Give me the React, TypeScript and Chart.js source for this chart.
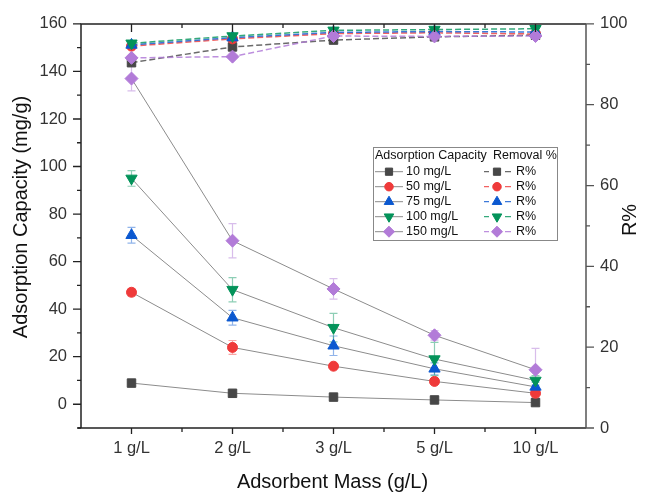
import React, { useEffect, useRef } from 'react';
import { Chart, registerables } from 'chart.js';

Chart.register(...registerables);

const FONT = '"Liberation Sans", Arial, Helvetica, sans-serif';
const W = 656;
const H = 494;

// categories and series names
const massLabels = ['1 g/L', '2 g/L', '3 g/L', '5 g/L', '10 g/L'];
const concLabels = ['10 mg/L', '50 mg/L', '75 mg/L', '100 mg/L', '150 mg/L'];

// adsorption capacity (mg/g)
const q10 = [8.9, 4.6, 3.0, 1.8, 0.7];
const q50 = [47.1, 23.9, 16.0, 9.6, 4.6];
const q75 = [71.1, 36.4, 24.6, 14.9, 7.3];
const q100 = [95.0, 48.2, 32.2, 19.0, 10.0];
const q150 = [137.0, 68.8, 48.5, 29.0, 14.5];

// standard deviation of the adsorption capacity
const q10Err = [0.4, 0.4, 0.3, 0.3, 0.3];
const q50Err = [1.5, 2.9, 0.8, 1.0, 2.0];
const q75Err = [3.3, 3.1, 4.1, 2.5, 2.0];
const q100Err = [3.3, 5.1, 6.0, 7.0, 2.0];
const q150Err = [5.2, 7.2, 4.3, 2.0, 9.0];

// removal efficiency (%)
const r10 = [90.4, 94.3, 96.0, 96.8, 97.2];
const r50 = [94.5, 96.3, 97.6, 97.8, 97.5];
const r75 = [94.8, 96.6, 97.9, 98.1, 98.0];
const r100 = [95.2, 97.0, 98.4, 98.6, 98.8];
const r150 = [91.6, 91.9, 97.0, 96.9, 97.0];

// axis ticks
const capacityTicks = [0, 20, 40, 60, 80, 100, 120, 140, 160];
const capacityMinor = [-10, 10, 30, 50, 70, 90, 110, 130, 150];
const removalTicks = [0, 20, 40, 60, 80, 100];
const removalMinor = [10, 30, 50, 70, 90];

const capacitySeries = [q10, q50, q75, q100, q150];
const capacityErrors = [q10Err, q50Err, q75Err, q100Err, q150Err];
const removalSeries = [r10, r50, r75, r100, r150];

type Marker = { color: string; err: string; dash: string; shape: string; rot: number; r: number };

const markers: Marker[] = [
  { color: '#474747', err: 'rgba(71,71,71,0.45)', dash: 'rgba(80,80,80,0.85)', shape: 'rect', rot: 0, r: 6 },
  { color: '#ef3a3a', err: 'rgba(239,58,58,0.45)', dash: 'rgba(239,58,58,0.8)', shape: 'circle', rot: 0, r: 5 },
  { color: '#0b58d0', err: 'rgba(11,88,208,0.45)', dash: 'rgba(11,88,208,0.8)', shape: 'triangle', rot: 0, r: 6.5 },
  { color: '#03935a', err: 'rgba(3,147,90,0.45)', dash: 'rgba(3,147,90,0.8)', shape: 'triangle', rot: 180, r: 6.5 },
  { color: '#b27bd8', err: 'rgba(178,123,216,0.5)', dash: 'rgba(178,123,216,0.85)', shape: 'rectRot', rot: 0, r: 6.5 },
];

function markerPath(ctx: CanvasRenderingContext2D, m: Marker, x: number, y: number, r: number) {
  ctx.beginPath();
  if (m.shape === 'circle') {
    ctx.arc(x, y, r, 0, Math.PI * 2);
  } else if (m.shape === 'rect') {
    const s = Math.SQRT1_2 * r;
    ctx.rect(x - s, y - s, 2 * s, 2 * s);
  } else if (m.shape === 'triangle') {
    let a = (m.rot * Math.PI) / 180;
    ctx.moveTo(x + Math.sin(a) * r, y - Math.cos(a) * r);
    a += (2 * Math.PI) / 3;
    ctx.lineTo(x + Math.sin(a) * r, y - Math.cos(a) * r);
    a += (2 * Math.PI) / 3;
    ctx.lineTo(x + Math.sin(a) * r, y - Math.cos(a) * r);
    ctx.closePath();
  } else {
    ctx.moveTo(x - r, y);
    ctx.lineTo(x, y - r);
    ctx.lineTo(x + r, y);
    ctx.lineTo(x, y + r);
    ctx.closePath();
  }
  ctx.fillStyle = m.color;
  ctx.strokeStyle = m.color;
  ctx.lineWidth = 1;
  ctx.fill();
  ctx.stroke();
}

// whiskers drawn under the lines and markers
const errorBarsPlugin = {
  id: 'errorBars',
  beforeDatasetsDraw(chart: any) {
    const ctx: CanvasRenderingContext2D = chart.ctx;
    ctx.save();
    chart.data.datasets.forEach((ds: any, i: number) => {
      if (!ds.errors) return;
      const meta = chart.getDatasetMeta(i);
      const scale = chart.scales[ds.yAxisID];
      meta.data.forEach((pt: any, j: number) => {
        const v = ds.data[j];
        const e = ds.errors[j];
        const yt = scale.getPixelForValue(v + e);
        const yb = scale.getPixelForValue(v - e);
        ctx.strokeStyle = ds.errorColor;
        ctx.lineWidth = 1.2;
        ctx.beginPath();
        ctx.moveTo(pt.x, yt);
        ctx.lineTo(pt.x, yb);
        ctx.moveTo(pt.x - 4, yt);
        ctx.lineTo(pt.x + 4, yt);
        ctx.moveTo(pt.x - 4, yb);
        ctx.lineTo(pt.x + 4, yb);
        ctx.stroke();
      });
    });
    ctx.restore();
  },
};

// axis frame, tick marks, axis titles and the two-column key
const decorPlugin = {
  id: 'decor',
  afterDraw(chart: any) {
    const ctx: CanvasRenderingContext2D = chart.ctx;
    const { left, right, top, bottom } = chart.chartArea;
    const xs = chart.scales.x;
    const ys = chart.scales.y;
    const ys1 = chart.scales.y1;
    ctx.save();

    // frame
    ctx.lineWidth = 1.5;
    ctx.strokeStyle = '#222';
    ctx.beginPath();
    ctx.moveTo(left - 3, bottom);
    ctx.lineTo(right, bottom);
    ctx.moveTo(left, bottom);
    ctx.lineTo(left, top);
    ctx.lineTo(right, top);
    ctx.stroke();
    ctx.strokeStyle = '#555';
    ctx.beginPath();
    ctx.moveTo(right, top);
    ctx.lineTo(right, bottom);
    ctx.stroke();

    ctx.lineWidth = 1.3;
    // x ticks
    ctx.strokeStyle = '#222';
    ctx.beginPath();
    for (let i = 0; i < massLabels.length; i++) {
      const px = xs.getPixelForValue(i);
      ctx.moveTo(px, bottom);
      ctx.lineTo(px, bottom + 6);
      ctx.moveTo(px, top);
      ctx.lineTo(px, top + 8);
      if (i < massLabels.length - 1) {
        const mx = (px + xs.getPixelForValue(i + 1)) / 2;
        ctx.moveTo(mx, bottom);
        ctx.lineTo(mx, bottom + 4);
        ctx.moveTo(mx, top);
        ctx.lineTo(mx, top + 4);
      }
    }
    ctx.stroke();

    // left ticks
    ctx.beginPath();
    capacityTicks.forEach((v) => {
      const py = ys.getPixelForValue(v);
      ctx.moveTo(left - 8, py);
      ctx.lineTo(left, py);
    });
    capacityMinor.forEach((v) => {
      const py = ys.getPixelForValue(v);
      ctx.moveTo(left - 4, py);
      ctx.lineTo(left, py);
    });
    ctx.stroke();

    // right ticks
    ctx.strokeStyle = '#555';
    ctx.beginPath();
    removalTicks.forEach((v) => {
      const py = ys1.getPixelForValue(v);
      ctx.moveTo(right, py);
      ctx.lineTo(right + 8, py);
    });
    removalMinor.forEach((v) => {
      const py = ys1.getPixelForValue(v);
      ctx.moveTo(right, py);
      ctx.lineTo(right + 4, py);
    });
    ctx.stroke();

    // axis titles
    ctx.fillStyle = '#111';
    ctx.font = `20px ${FONT}`;
    ctx.textAlign = 'center';
    ctx.textBaseline = 'middle';
    ctx.fillText('Adsorbent Mass (g/L)', 332.5, 482);
    ctx.save();
    ctx.translate(21.5, 217);
    ctx.rotate(-Math.PI / 2);
    ctx.fillText('Adsorption Capacity (mg/g)', 0, 0);
    ctx.restore();
    ctx.save();
    ctx.translate(630, 220);
    ctx.rotate(-Math.PI / 2);
    ctx.fillText('R%', 0, 0);
    ctx.restore();

    // key
    const bx = 373;
    const by = 147;
    const bw = 184;
    const bh = 93;
    ctx.fillStyle = '#fff';
    ctx.fillRect(bx, by, bw, bh);
    ctx.strokeStyle = '#888';
    ctx.lineWidth = 1;
    ctx.strokeRect(bx + 0.5, by + 0.5, bw, bh);

    ctx.font = `12.5px ${FONT}`;
    ctx.textAlign = 'left';
    ctx.fillStyle = '#111';
    ctx.fillText('Adsorption Capacity', 375, 156);
    ctx.fillText('Removal %', 493, 156);

    markers.forEach((m, i) => {
      const y = 171.7 + i * 15;
      // capacity column
      ctx.strokeStyle = '#8a8a8a';
      ctx.lineWidth = 1;
      ctx.setLineDash([]);
      ctx.beginPath();
      ctx.moveTo(375, y);
      ctx.lineTo(403, y);
      ctx.stroke();
      markerPath(ctx, m, 389, y, m.r * 0.85);
      ctx.fillStyle = '#111';
      ctx.fillText(concLabels[i], 406, y);
      // removal column
      ctx.strokeStyle = m.dash;
      ctx.lineWidth = 1.3;
      ctx.beginPath();
      ctx.moveTo(484, y);
      ctx.lineTo(489, y);
      ctx.moveTo(505, y);
      ctx.lineTo(511, y);
      ctx.stroke();
      markerPath(ctx, m, 497, y, m.r * 0.85);
      ctx.fillStyle = '#111';
      ctx.fillText('R%', 516, y);
    });

    ctx.restore();
  },
};

export default function App() {
  const canvasRef = useRef<HTMLCanvasElement | null>(null);

  useEffect(() => {
    const canvas = canvasRef.current;
    if (!canvas) return;

    const datasets: any[] = [];
    capacitySeries.forEach((values, i) => {
      const m = markers[i];
      datasets.push({
        label: concLabels[i],
        data: values,
        yAxisID: 'y',
        borderColor: '#8c8c8c',
        borderWidth: 1,
        pointStyle: m.shape,
        pointRotation: m.rot,
        pointRadius: m.r,
        pointBackgroundColor: m.color,
        pointBorderColor: m.color,
        pointBorderWidth: 1,
        errors: capacityErrors[i],
        errorColor: m.err,
        clip: false,
        order: 20 - i,
      });
    });
    removalSeries.forEach((values, i) => {
      const m = markers[i];
      datasets.push({
        label: 'R%',
        data: values,
        yAxisID: 'y1',
        borderColor: m.dash,
        borderWidth: 1.5,
        borderDash: [6, 3],
        pointStyle: m.shape,
        pointRotation: m.rot,
        pointRadius: m.r,
        pointBackgroundColor: m.color,
        pointBorderColor: m.color,
        pointBorderWidth: 1,
        clip: false,
        order: 10 - i,
      });
    });

    const tickFont = { family: FONT, size: 16.5 };

    const chart = new Chart(canvas, {
      type: 'line',
      data: { labels: massLabels, datasets },
      options: {
        animation: false,
        responsive: false,
        maintainAspectRatio: false,
        devicePixelRatio: 1,
        layout: { padding: { top: 20, left: 0, right: 0, bottom: 0 } },
        plugins: {
          legend: { display: false },
          tooltip: { enabled: false },
        },
        scales: {
          x: {
            type: 'category',
            offset: true,
            grid: { display: false, drawTicks: false },
            border: { display: false },
            ticks: { font: tickFont, color: '#333', padding: 11, maxRotation: 0, autoSkip: false },
            afterFit: (s: any) => {
              s.height = 66;
            },
          },
          y: {
            type: 'linear',
            position: 'left',
            min: -10,
            max: 160,
            grid: { display: false, drawTicks: false },
            border: { display: false },
            ticks: { font: tickFont, color: '#333', padding: 14 },
            afterBuildTicks: (s: any) => {
              s.ticks = capacityTicks.map((v) => ({ value: v }));
            },
            afterFit: (s: any) => {
              s.width = 81;
            },
          },
          y1: {
            type: 'linear',
            position: 'right',
            min: 0,
            max: 100,
            grid: { display: false, drawTicks: false },
            border: { display: false },
            ticks: { font: tickFont, color: '#333', padding: 14 },
            afterBuildTicks: (s: any) => {
              s.ticks = removalTicks.map((v) => ({ value: v }));
            },
            afterFit: (s: any) => {
              s.width = 70;
            },
          },
        },
      } as any,
      plugins: [errorBarsPlugin, decorPlugin],
    });

    return () => chart.destroy();
  }, []);

  return (
    <div style={{ position: 'fixed', left: 0, top: 0, width: W, height: H, background: '#fff' }}>
      <canvas ref={canvasRef} width={W} height={H} style={{ display: 'block', width: W, height: H }} />
    </div>
  );
}
